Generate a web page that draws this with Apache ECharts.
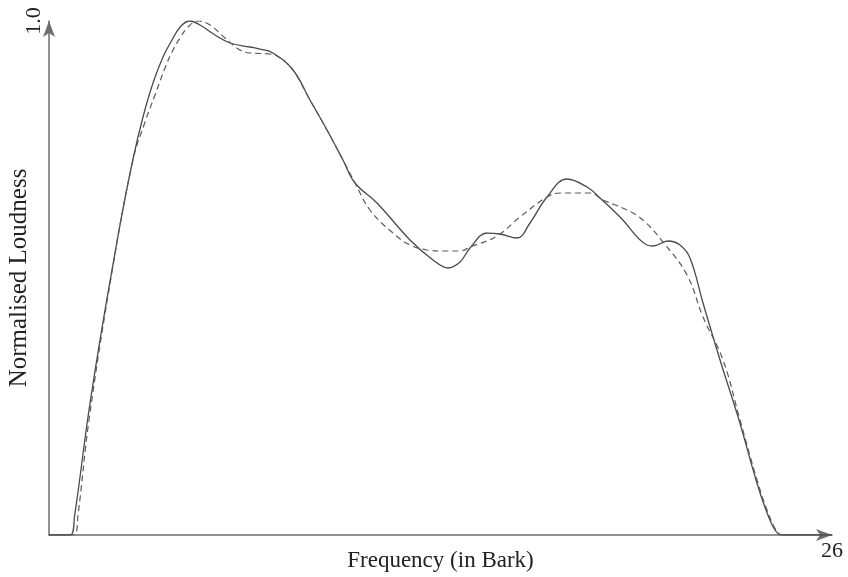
<!DOCTYPE html>
<html>
<head>
<meta charset="utf-8">
<script src="https://cdn.jsdelivr.net/npm/echarts@6/dist/echarts.min.js"></script>
<style>
  html, body { margin: 0; padding: 0; background: #fff; }
  #chart { width: 848px; height: 577px; }
</style>
</head>
<body>
<div id="chart"></div>
<script>
// Frequency positions (Bark) and normalised loudness for the measured spectrum (solid)
const barkSolid = [0, 0.70, 0.853, 1.295, 1.694, 2.092, 2.424, 2.789, 3.121, 3.453, 3.785, 4.084, 4.383, 4.682, 5.014, 5.512, 6.010, 6.674, 7.006, 7.438, 8.102, 8.667, 9.231, 9.762, 10.161, 10.892, 11.987, 12.751, 13.249, 13.648, 13.980, 14.544, 14.976, 15.540, 15.972, 16.537, 17.201, 17.865, 18.297, 18.961, 19.857, 20.057, 20.555, 20.953, 21.285, 21.717, 22.282, 22.912, 23.477, 23.809, 24.108, 24.340, 26];
const loudSolid = [0, 0, 0.0389, 0.2296, 0.3794, 0.5156, 0.6245, 0.7315, 0.8132, 0.8794, 0.9300, 0.9630, 0.9903, 1.0, 0.9922, 0.9728, 0.9572, 0.9494, 0.9455, 0.9377, 0.9047, 0.8463, 0.7879, 0.7296, 0.6848, 0.6459, 0.5739, 0.5350, 0.5195, 0.5311, 0.5584, 0.5875, 0.5856, 0.5778, 0.6070, 0.6576, 0.6926, 0.6770, 0.6556, 0.6187, 0.5642, 0.5623, 0.5720, 0.5642, 0.5389, 0.4514, 0.3405, 0.2237, 0.1070, 0.0486, 0.0097, 0, 0];

// Frequency positions (Bark) and normalised loudness for the model fit (dashed)
const barkDashed = [0, 0.83, 0.963, 1.328, 2.092, 2.789, 3.188, 3.520, 3.852, 4.084, 4.350, 4.616, 4.948, 5.346, 5.844, 6.342, 6.674, 7.338, 7.671, 8.102, 8.667, 9.231, 9.762, 10.161, 10.659, 11.423, 11.987, 12.552, 13.083, 13.648, 13.980, 14.876, 15.640, 16.537, 16.968, 17.965, 18.396, 19.193, 19.724, 20.389, 21.186, 21.717, 22.381, 22.945, 23.510, 23.842, 24.141, 24.373, 26];
const loudDashed = [0, 0, 0.0389, 0.2237, 0.5117, 0.7296, 0.8035, 0.8560, 0.9086, 0.9397, 0.9669, 0.9883, 1.0, 0.9922, 0.9669, 0.9436, 0.9377, 0.9358, 0.9280, 0.9047, 0.8463, 0.7879, 0.7296, 0.6848, 0.6323, 0.5875, 0.5642, 0.5545, 0.5525, 0.5525, 0.5603, 0.5817, 0.6187, 0.6576, 0.6654, 0.6654, 0.6518, 0.6323, 0.6128, 0.5700, 0.5058, 0.4241, 0.3405, 0.2237, 0.1070, 0.0486, 0.0097, 0, 0];

// Axis end labels
const xTickLabels = { 26: '26' };
const yTickLabels = { 1: '1.0' };

const xTitle = 'Frequency (in Bark)';
const yTitle = 'Normalised Loudness';

const pairs = (xs, ys) => xs.map((x, i) => [x, ys[i]]);

const serif = '"Liberation Serif", "Times New Roman", serif';
const axisColor = '#6e6e6e';

const chart = echarts.init(document.getElementById('chart'), null, { renderer: 'canvas' });
chart.setOption({
  animation: false,
  backgroundColor: '#ffffff',
  grid: {
    left: 49, right: 16, top: 21, bottom: 42,
    containLabel: false,
    outerBoundsMode: 'none'
  },
  xAxis: {
    type: 'value',
    min: 0,
    max: 26,
    interval: 26,
    name: xTitle,
    nameLocation: 'middle',
    nameGap: 14,
    nameMoveOverlap: false,
    nameTextStyle: { fontFamily: serif, fontSize: 23, color: '#222' },
    axisLine: {
      lineStyle: { color: axisColor, width: 1.5 },
      symbol: ['none', 'arrow'],
      symbolSize: [9, 16]
    },
    axisTick: { show: false },
    splitLine: { show: false },
    axisLabel: {
      margin: 5,
      fontFamily: serif,
      fontSize: 22,
      color: '#222',
      formatter: v => xTickLabels[v] || ''
    }
  },
  yAxis: {
    type: 'value',
    min: 0,
    max: 1,
    interval: 1,
    name: yTitle,
    nameLocation: 'middle',
    nameGap: 17,
    nameMoveOverlap: false,
    nameTextStyle: { fontFamily: serif, fontSize: 25, color: '#222' },
    axisLine: {
      lineStyle: { color: axisColor, width: 1.5 },
      symbol: ['none', 'arrow'],
      symbolSize: [9, 16]
    },
    axisTick: { show: false },
    splitLine: { show: false },
    axisLabel: {
      margin: 4,
      rotate: 90,
      fontFamily: serif,
      fontSize: 22,
      color: '#222',
      formatter: v => yTickLabels[v] || ''
    }
  },
  series: [
    {
      type: 'line',
      data: pairs(barkSolid, loudSolid),
      smooth: 0.4,
      showSymbol: false,
      lineStyle: { color: '#4a4a4a', width: 1.3 }
    },
    {
      type: 'line',
      data: pairs(barkDashed, loudDashed),
      smooth: 0.4,
      showSymbol: false,
      lineStyle: { color: '#5a5a5a', width: 1.2, type: [6, 4] }
    }
  ]
});
</script>
</body>
</html>
